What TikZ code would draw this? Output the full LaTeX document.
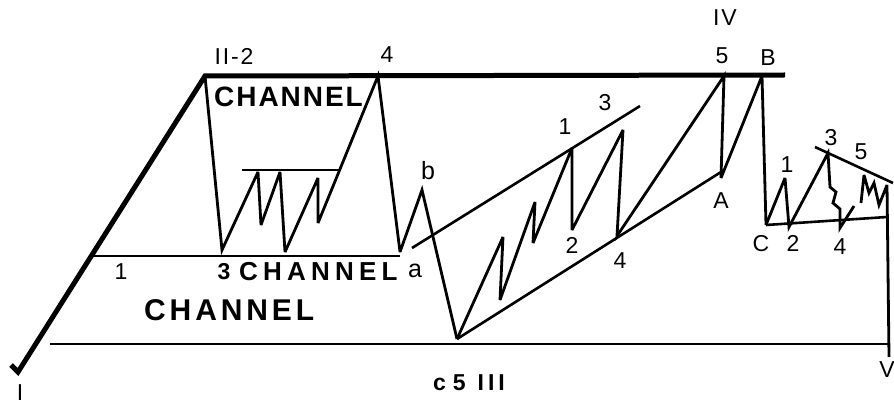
\documentclass[tikz,border=0pt]{standalone}
\usepackage{fontspec}
\setmainfont{Liberation Sans}
\usetikzlibrary{positioning}
\tikzset{
    grossa/.style={line width=5pt, line join=miter},
    onda/.style={line width=2.8pt, line join=miter, miter limit=4},
    tendencia/.style={line width=2.6pt},
    rotulo/.style={inner sep=0pt, font=\fontsize{23}{25}\selectfont},
    letra/.style={inner sep=0pt, font=\fontsize{25}{27}\selectfont},
    canal/.style={inner sep=0pt, anchor=west, font=\bfseries\fontsize{#1}{32}\selectfont}
}

\begin{document}
\begin{tikzpicture}[x=1pt, y=-1pt]
    \useasboundingbox (0,0) rectangle (894,406);

    % pontos principais
    \coordinate (I0) at (11,365);
    \coordinate (I) at (18,372);
    \coordinate (II) at (205,76);
    \coordinate (topo) at (785,75);
    \coordinate (ch1) at (92,256);
    \coordinate (cha) at (400,256);

    % onda II
    \coordinate (ii3) at (222,250);
    \coordinate (ii4) at (378,76);
    \coordinate (a) at (400,252);
    \coordinate (b) at (422,190);
    \coordinate (c) at (457,339);

    % onda III
    \coordinate (w1) at (572,148);
    \coordinate (w2) at (572,230);
    \coordinate (w3) at (623,130);
    \coordinate (w4) at (617,236);
    \coordinate (w5) at (724,76);
    \coordinate (A) at (721,178);
    \coordinate (B) at (762,76);
    \coordinate (C) at (766,225);

    % onda V
    \coordinate (v1) at (785,178);
    \coordinate (v2) at (789,227);
    \coordinate (v3) at (828,153);
    \coordinate (v4) at (840,228);
    \coordinate (v5) at (887,185);
    \coordinate (V) at (889,357);

    % linhas de canal
    \draw[grossa] (I0) -- (I) -- (II) -- (topo);
    \draw[tendencia] (ch1) -- (cha);
    \draw[tendencia] (242,170) -- (340,170);
    \draw[tendencia] (412,248) -- (640,106);
    \draw[tendencia] (c) -- (721,172);
    \draw[tendencia] (815,147) -- (893,183);
    \draw[tendencia] (C) -- (887,217);
    \draw[line width=2.4pt] (50,344) -- (889,344);

    % ondas
    \draw[onda] (II) -- (ii3) -- (258,172) -- (261,225) -- (280,172)
        -- (285,252) -- (318,178) -- (318,223) -- (ii4) -- (a) -- (b) -- (c);
    \draw[onda] (c) -- (503,237) -- (500,300) -- (535,202) -- (533,243)
        -- (w1) -- (w2) -- (w3) -- (w4) -- (w5) -- (A) -- (B) -- (C)
        -- (v1) -- (v2) -- (v3) -- (830,187) -- (836,192) -- (833,203)
        -- (840,209) -- (v4) -- (854,206);
    \draw[onda] (861,203) -- (864,175) -- (869,193) -- (874,183)
        -- (879,205) -- (v5) -- (V);

    % rotulos
    \node[rotulo] (rI) at (20,393) {I};
    \node[rotulo] (rII) at (234,56)
        {\addfontfeature{LetterSpace=8}II-2};
    \node[rotulo] (r4) at (387,55) {4};
    \node[rotulo] (rIV) at (725,18) {\addfontfeature{LetterSpace=8}IV};
    \node[rotulo] (r5) at (722,56) {5};
    \node[rotulo] (rB) at (768,58) {B};
    \node[rotulo] (r1) at (121,272) {1};
    \node[rotulo, font=\bfseries\fontsize{23}{25}\selectfont] (r3) at (224,272) {3};
    \node[letra] (ra) at (415,271) {a};
    \node[letra] (rb) at (428,171) {b};
    \node[rotulo, font=\bfseries\fontsize{23}{25}\selectfont] (rc) at (469,383)
        {c\hspace{7pt}5\hspace{12pt}I\hspace{4pt}I\hspace{4pt}I};
    \node[rotulo] (w1r) at (565,127) {1};
    \node[rotulo] (w3r) at (605,103) {3};
    \node[rotulo] (w2r) at (572,245) {2};
    \node[rotulo] (w4r) at (620,261) {4};
    \node[rotulo] (rA) at (721,201) {A};
    \node[rotulo] (rC) at (761,244) {C};
    \node[rotulo] (v1r) at (787,165) {1};
    \node[rotulo] (v2r) at (793,243) {2};
    \node[rotulo] (v3r) at (831,138) {3};
    \node[rotulo] (v4r) at (840,247) {4};
    \node[rotulo] (v5r) at (861,152) {5};
    \node[rotulo] (rV) at (887,370) {V};

    % canais
    \node[canal=28] (canal1) at (214,97)
        {\addfontfeature{LetterSpace=7}CHANNEL};
    \node[canal=26] (canal2) at (239,272)
        {\addfontfeature{LetterSpace=20}CHANNEL};
    \node[canal=30] (canal3) at (144,310)
        {\addfontfeature{LetterSpace=13}CHANNEL};
\end{tikzpicture}
\end{document}
